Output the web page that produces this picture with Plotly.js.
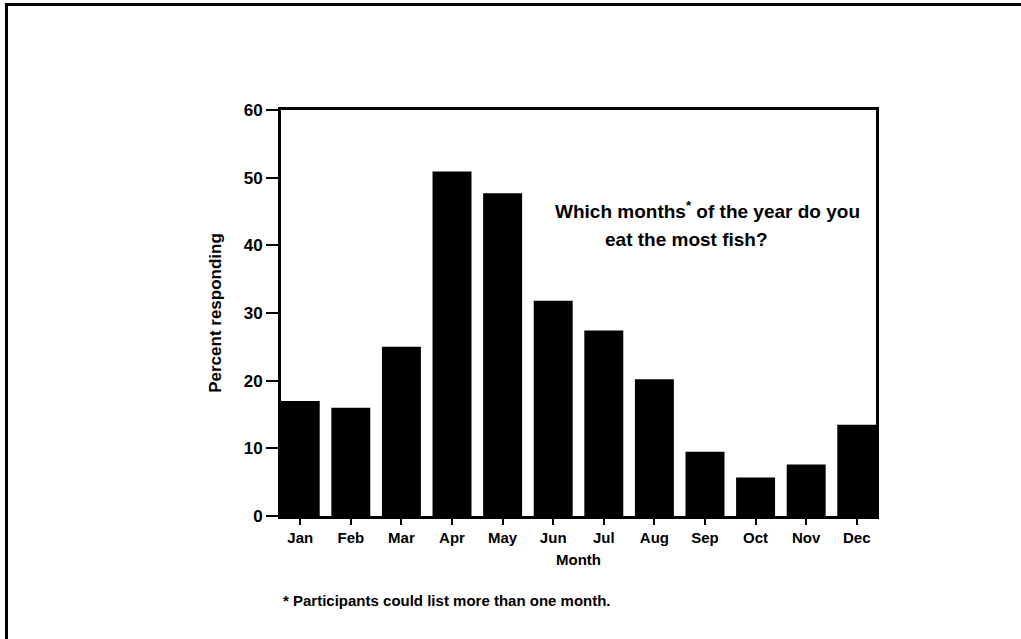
<!DOCTYPE html>
<html>
<head>
<meta charset="utf-8">
<script src="https://cdn.plot.ly/plotly-3.0.1.min.js"></script>
<style>
  html, body { margin: 0; padding: 0; background: #fff; }
  #frame { position: absolute; left: 5px; top: 3px; width: 1016px; height: 636px; border-top: 3px solid #000; border-left: 3px solid #000; }
  #chart { position: absolute; left: 0; top: 0; width: 1021px; height: 639px; }
</style>
</head>
<body>
<div id="frame"></div>
<div id="chart"></div>
<script>
const months = ["Jan","Feb","Mar","Apr","May","Jun","Jul","Aug","Sep","Oct","Nov","Dec"];
const percentResponding = [17.0, 16.0, 25.0, 50.9, 47.7, 31.8, 27.4, 20.2, 9.5, 5.7, 7.6, 13.5];
const yTicks = [0, 10, 20, 30, 40, 50, 60];
const questionLine1 = "Which months<sup>*</sup> of the year do you";
const questionLine2 = "eat the most fish?";
const footnoteText = "* Participants could list more than one month.";

const fontFam = "Liberation Sans, Arial, Helvetica, sans-serif";

const trace = {
  type: "bar",
  x: months,
  y: percentResponding,
  width: 0.77,
  marker: { color: "#000", line: { width: 0 } },
  hoverinfo: "x+y"
};

const layout = {
  width: 1021, height: 639,
  margin: { l: 281, r: 145, t: 110, b: 123 },
  paper_bgcolor: "rgba(0,0,0,0)",
  plot_bgcolor: "#fff",
  showlegend: false,
  font: { family: fontFam, size: 15, color: "#000", weight: "bold" },
  xaxis: {
    type: "category",
    range: [-0.38, 11.38],
    showline: true, linewidth: 3, linecolor: "#000", mirror: true,
    ticks: "outside", ticklen: 6, tickwidth: 2, tickcolor: "#000",
    showgrid: false, zeroline: false,
    tickfont: { family: fontFam, size: 15, weight: "bold" },
    title: { text: "Month", standoff: 10, font: { family: fontFam, size: 15, weight: "bold" } }
  },
  yaxis: {
    range: [0, 60],
    tickvals: yTicks,
    showline: true, linewidth: 3, linecolor: "#000", mirror: true,
    ticks: "outside", ticklen: 12, tickwidth: 2, tickcolor: "#000",
    showgrid: false, zeroline: false,
    tickfont: { family: fontFam, size: 17, weight: "bold" },
    title: { text: "Percent responding", standoff: 18, font: { family: fontFam, size: 17, weight: "bold" } }
  },
  annotations: [
    {
      xref: "paper", yref: "paper", x: 0.716, y: 0.754,
      xanchor: "center", yanchor: "middle",
      text: questionLine1, showarrow: false, align: "center",
      font: { family: fontFam, size: 19, weight: "bold" }
    },
    {
      xref: "paper", yref: "paper", x: 0.682, y: 0.682,
      xanchor: "center", yanchor: "middle",
      text: questionLine2, showarrow: false, align: "center",
      font: { family: fontFam, size: 19, weight: "bold" }
    },
    {
      xref: "paper", yref: "paper", x: 0.0, y: -0.207,
      xanchor: "left", yanchor: "middle",
      text: footnoteText, showarrow: false, align: "left",
      font: { family: fontFam, size: 15, weight: "bold" }
    }
  ]
};

Plotly.newPlot("chart", [trace], layout, { displayModeBar: false, staticPlot: true });
</script>
</body>
</html>
